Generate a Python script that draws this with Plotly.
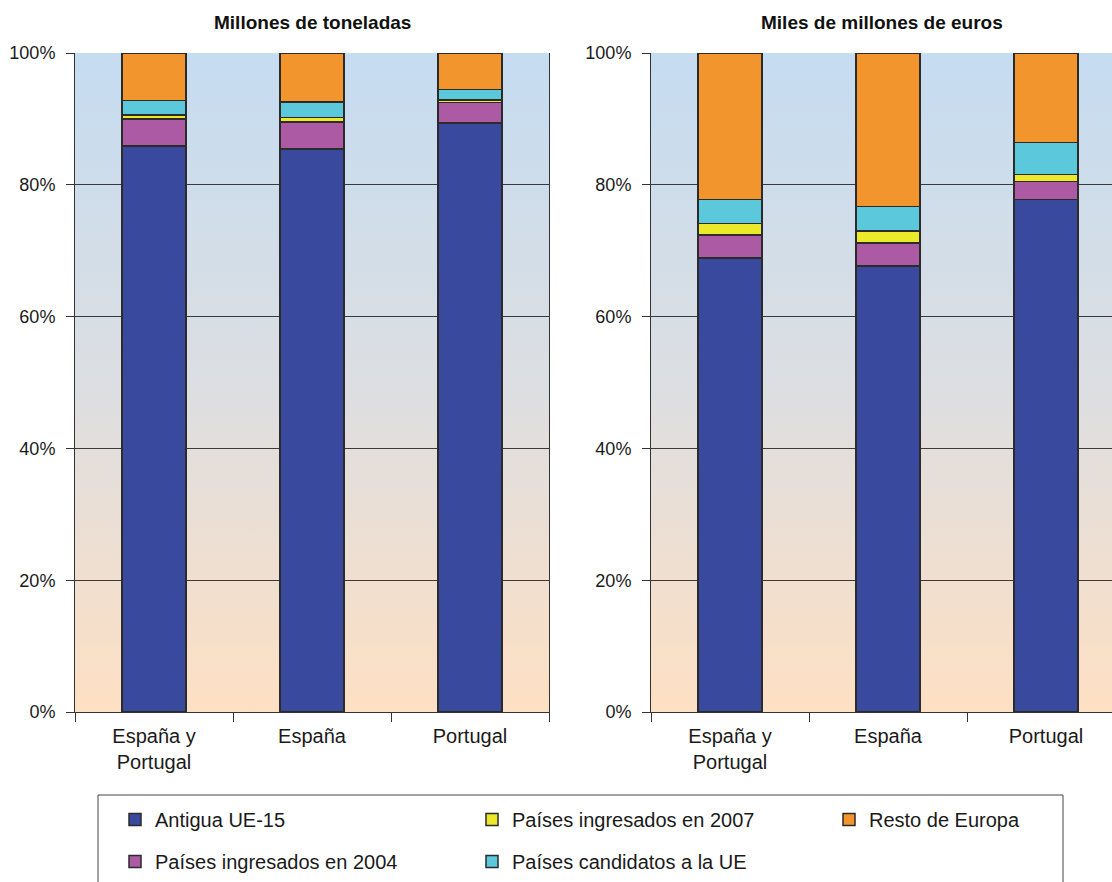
import plotly.graph_objects as go

categories = ["España y<br>Portugal", "España", "Portugal"]
series_names = ["Antigua UE-15", "Países ingresados en 2004", "Países ingresados en 2007",
                "Países candidatos a la UE", "Resto de Europa"]
colors = ["#394A9E", "#AB5AA3", "#ECE82A", "#5CC8DC", "#F3952D"]
legend_ids = ["legend", "legend", "legend2", "legend2", "legend3"]

# Millones de toneladas (%)
tons_antigua = [85.9, 85.4, 89.4]
tons_2004 = [4.1, 4.1, 3.1]
tons_2007 = [0.6, 0.7, 0.4]
tons_cand = [2.2, 2.4, 1.6]
tons_resto = [7.2, 7.4, 5.5]

# Miles de millones de euros (%)
eur_antigua = [68.9, 67.7, 77.8]
eur_2004 = [3.5, 3.5, 2.7]
eur_2007 = [1.7, 1.8, 1.1]
eur_cand = [3.7, 3.7, 4.8]
eur_resto = [22.2, 23.3, 13.6]

titles = ["Millones de toneladas", "Miles de millones de euros"]
ytickvals = [0, 20, 40, 60, 80, 100]
yticktext = ["0%", "20%", "40%", "60%", "80%", "100%"]

tons = [tons_antigua, tons_2004, tons_2007, tons_cand, tons_resto]
eur = [eur_antigua, eur_2004, eur_2007, eur_cand, eur_resto]

FONT = "Liberation Sans, Arial, sans-serif"
W, H = 1112, 882
L, R, T, B_MARGIN = 75, 0, 53, 170
PW, PH = W - L - R, H - T - B_MARGIN
B = H - B_MARGIN
CAT_PX = 158  # pixel width of one category slot

fig = go.Figure()

for (xa, ya), data in ((("x", "y"), tons), (("x2", "y2"), eur)):
    for i, name in enumerate(series_names):
        fig.add_trace(go.Bar(
            x=categories, y=data[i], name=name, xaxis=xa, yaxis=ya,
            marker=dict(color=colors[i], line=dict(color="#2b2b2b", width=1.5)),
            width=0.405, showlegend=(xa == "x"), legend=legend_ids[i],
            legendgroup=name, hoverinfo="skip"))

# gradient background via svg data uri
svg = ("data:image/svg+xml;charset=utf-8,"
       "%3Csvg xmlns='http://www.w3.org/2000/svg' width='10' height='100' preserveAspectRatio='none'%3E"
       "%3Cdefs%3E%3ClinearGradient id='g' x1='0' y1='0' x2='0' y2='1'%3E"
       "%3Cstop offset='0' stop-color='%23C5DCF1'/%3E"
       "%3Cstop offset='0.5' stop-color='%23DCDEE2'/%3E"
       "%3Cstop offset='1' stop-color='%23FEE0C3'/%3E"
       "%3C/linearGradient%3E%3C/defs%3E"
       "%3Crect width='10' height='100' fill='url(%23g)'/%3E%3C/svg%3E")

for xref, yref in (("x", "y"), ("x2", "y2")):
    fig.add_layout_image(dict(source=svg, xref=xref + " domain", yref=yref + " domain",
                              x=0, y=1, sizex=1, sizey=1, xanchor="left", yanchor="top",
                              sizing="stretch", layer="below"))


def leg(xpx):
    return dict(orientation="v", x=(xpx - L) / PW, y=-(800 - B) / PH,
                xanchor="left", yanchor="top", traceorder="grouped",
                tracegroupgap=13, bgcolor="rgba(0,0,0,0)",
                font=dict(size=20, family=FONT, color="#1a1a1a"),
                itemclick=False, itemdoubleclick=False)


left_end = 549
right_start = 651
x2_span = (W - right_start) / CAT_PX

xaxis_style = dict(showline=True, linecolor="#333", linewidth=1, mirror=False,
                   ticks="outside", tickson="boundaries", ticklen=9, tickcolor="#333",
                   showgrid=False, tickfont=dict(size=20),
                   ticklabelstandoff=6, type="category")
yaxis_style = dict(range=[0, 100], tickvals=ytickvals, ticktext=yticktext,
                   showline=True, linecolor="#333", linewidth=1,
                   ticks="outside", ticklen=8, tickcolor="#333",
                   showgrid=True, gridcolor="#3a3a3a", gridwidth=1,
                   tickfont=dict(size=18), zeroline=False, ticklabelstandoff=7)

fig.update_layout(
    barmode="stack",
    width=W, height=H,
    margin=dict(l=L, r=R, t=T, b=B_MARGIN, autoexpand=False),
    paper_bgcolor="white", plot_bgcolor="rgba(0,0,0,0)",
    font=dict(family=FONT, size=19, color="#1a1a1a"),
    showlegend=True,
    legend=leg(115), legend2=leg(472), legend3=leg(829),
    xaxis=dict(domain=[0, (left_end - L) / PW], anchor="y", range=[-0.5, 2.5], **xaxis_style),
    yaxis=dict(domain=[0, 1], anchor="x", mirror=True, **yaxis_style),
    xaxis2=dict(domain=[(right_start - L) / PW, 1], anchor="y2",
                range=[-0.5, -0.5 + x2_span], **xaxis_style),
    yaxis2=dict(domain=[0, 1], anchor="x2", mirror=False, **yaxis_style),
)

for i, t in enumerate(titles):
    xref = "x domain" if i == 0 else "x2 domain"
    fig.add_annotation(text="<b>" + t + "</b>", xref=xref, yref="paper",
                       x=0.5, y=1, yanchor="middle", yshift=31, showarrow=False,
                       font=dict(size=19, family=FONT, color="#111"))

# legend frame
fig.add_shape(type="rect", xref="paper", yref="paper",
              x0=(98 - L) / PW, x1=(1063 - L) / PW,
              y0=-(885 - B) / PH, y1=-(795 - B) / PH,
              line=dict(color="#444", width=1), fillcolor="rgba(0,0,0,0)")

fig.write_html("out.html")
